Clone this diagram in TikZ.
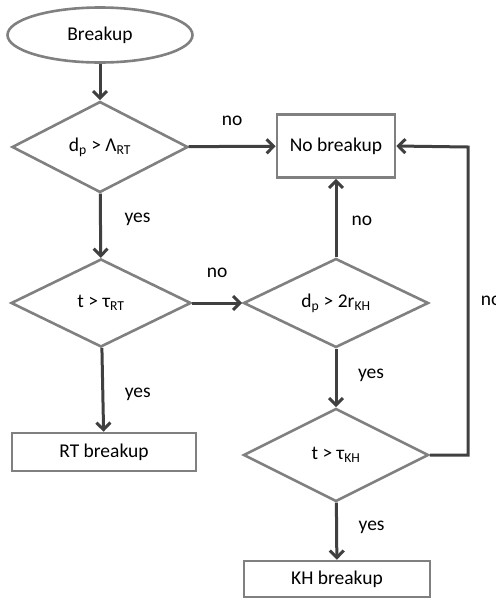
\documentclass[tikz,border=0pt]{standalone}
\usepackage{fontspec}
\setmainfont{Carlito}
\usepackage{tikz}
\usetikzlibrary{shapes.geometric,arrows.meta}

\definecolor{shapegray}{HTML}{808080}
\definecolor{arrowgray}{HTML}{404040}

\tikzset{
    startstop/.style={ellipse, draw=shapegray, line width=2.6pt, minimum width=185pt, minimum height=55pt, inner sep=0pt},
    decision/.style={diamond, aspect=2, draw=shapegray, line width=2.6pt, inner sep=0pt},
    result/.style={rectangle, draw=shapegray, line width=2.6pt, inner sep=0pt},
    flow/.style={draw=arrowgray, line width=3pt, -{Straight Barb[length=7pt,width=14pt,line width=3pt]}},
    answer/.style={text=black}
}

\begin{document}
\begin{tikzpicture}[x=1pt, y=-1pt, font=\fontsize{19.5}{23}\selectfont]
        \useasboundingbox (0,0) rectangle (496,598);

        \node[startstop] (breakup) at (100,35) {Breakup};

        \node[decision, minimum width=176pt, minimum height=91pt] (rt) at (100,147) {d\textsubscript{p} > Λ\textsubscript{RT}};
        \node[decision, minimum width=180pt, minimum height=88pt] (taurt) at (101,303) {t > τ\textsubscript{RT}};
        \node[decision, minimum width=185pt, minimum height=89pt] (kh) at (336,303) {d\textsubscript{p} > 2r\textsubscript{KH}};
        \node[decision, minimum width=185pt, minimum height=93pt] (taukh) at (336,455) {t > τ\textsubscript{KH}};

        \node[result, minimum width=118pt, minimum height=63pt] (none) at (336,146) {No breakup};
        \node[result, minimum width=184pt, minimum height=38pt] (rtbreak) at (104,452) {RT breakup};
        \node[result, minimum width=186pt, minimum height=36pt] (khbreak) at (337,579) {KH breakup};

        \coordinate (corner) at (468,455);
        \coordinate (back) at (468,147);

        
        \draw[flow] (breakup) -- (rt);
        \draw[flow] (rt) -- (none) node[answer, midway, yshift=26pt] {no};
        \draw[flow] (rt) -- (taurt) node[answer, midway, xshift=37pt, yshift=6pt] {yes};
        \draw[flow] (taurt) -- (kh) node[answer, midway, yshift=30pt] {no};
        \draw[flow] (taurt) -- (rtbreak) node[answer, midway, xshift=35pt, yshift=-5pt] {yes};

        
        \draw[flow] (kh) -- (none) node[answer, midway, xshift=26pt, yshift=-3pt] {no};
        \draw[flow] (kh) -- (taukh) node[answer, midway, xshift=35pt, yshift=3pt] {yes};
        \draw[flow] (taukh) -- (khbreak) node[answer, midway, xshift=35pt, yshift=4pt] {yes};
        \draw[flow] (taukh.east) -- (corner) -- (back) node[answer, pos=0.5, anchor=west, xshift=8pt] {no} -- (none.east);
    \end{tikzpicture}
\end{document}
